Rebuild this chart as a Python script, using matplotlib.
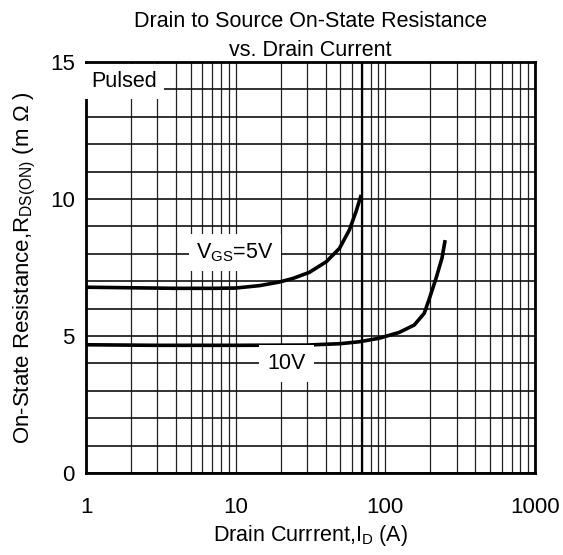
import numpy as np
import matplotlib
matplotlib.use("Agg")
import matplotlib.pyplot as plt
from matplotlib.ticker import FixedLocator, NullFormatter

plt.rcParams['font.family'] = ['Liberation Sans', 'DejaVu Sans']
plt.rcParams['mathtext.fontset'] = 'custom'
plt.rcParams['mathtext.rm'] = 'Liberation Sans'
plt.rcParams['mathtext.it'] = 'Liberation Sans'

# curves
id_5v = [1, 2, 4, 7, 10, 14.5, 19.6, 24.1, 31, 40.3, 49.4, 57.5, 63.7, 69]
r_5v = [6.78, 6.76, 6.74, 6.74, 6.75, 6.84, 6.97, 7.1, 7.32, 7.71, 8.2, 8.87, 9.54, 10.15]

id_10v = [1, 3, 10, 30, 50, 67.1, 91.2, 123.7, 156, 182, 197, 218, 239, 251]
r_10v = [4.68, 4.66, 4.66, 4.67, 4.72, 4.79, 4.92, 5.13, 5.4, 5.83, 6.37, 7.1, 7.84, 8.5]

x_ticks = [1, 10, 100, 1000]
x_ticklabels = ["1", "10", "100", "1000"]
y_ticks = [0, 5, 10, 15]

fig = plt.figure(figsize=(5.63, 5.55), dpi=100)
ax = fig.add_axes([86 / 563, 1 - 473 / 555, (535 - 86) / 563, (473 - 62) / 555])

ax.set_xscale('log')
ax.set_xlim(1, 1000)
ax.set_ylim(0, 15)

minor_x = [m * 10 ** d for d in range(3) for m in range(2, 10)]
ax.xaxis.set_major_locator(FixedLocator(x_ticks))
ax.xaxis.set_minor_locator(FixedLocator(minor_x))
ax.xaxis.set_minor_formatter(NullFormatter())
ax.set_xticklabels(x_ticklabels)
ax.yaxis.set_major_locator(FixedLocator(y_ticks))
ax.yaxis.set_minor_locator(FixedLocator(range(16)))

ax.grid(True, which='both', axis='x', color='#222222', lw=0.9)
ax.grid(True, which='both', axis='y', color='#111111', lw=1.2)
ax.axvline(70, color='black', lw=1.6)
ax.set_axisbelow(True)

ax.tick_params(which='both', direction='in', length=0, labelsize=16)
ax.tick_params(axis='x', pad=17)
ax.tick_params(axis='y', pad=8)
for s in ax.spines.values():
    s.set_linewidth(2)

ax.plot(id_5v, r_5v, color='black', lw=2.6, solid_capstyle='butt')
ax.plot(id_10v, r_10v, color='black', lw=2.6, solid_capstyle='butt')

ax.text(1.08, 14.3, "Pulsed", fontsize=15.5, va='center', ha='left',
        bbox=dict(facecolor='white', edgecolor='none', pad=5))
ax.text(9.9, 8.05, r"V$_{\rm GS}$=5V", fontsize=15.5, va='center', ha='center',
        bbox=dict(facecolor='white', edgecolor='none', pad=5))
ax.text(21.8, 4.0, "10V", fontsize=15.5, va='center', ha='center',
        bbox=dict(facecolor='white', edgecolor='none', pad=6))

ax.set_xlabel(r"Drain Currrent,I$_{\rm D}$ (A)", fontsize=15.5, labelpad=4)
ax.set_ylabel(r"On-State Resistance,R$_{\rm DS(ON)}$ (m $\Omega$ )", fontsize=16, labelpad=9)
ax.set_title("Drain to Source On-State Resistance\nvs. Drain Current",
             fontsize=15.5, pad=4, linespacing=1.5)

fig.savefig("out.png", dpi=100)
